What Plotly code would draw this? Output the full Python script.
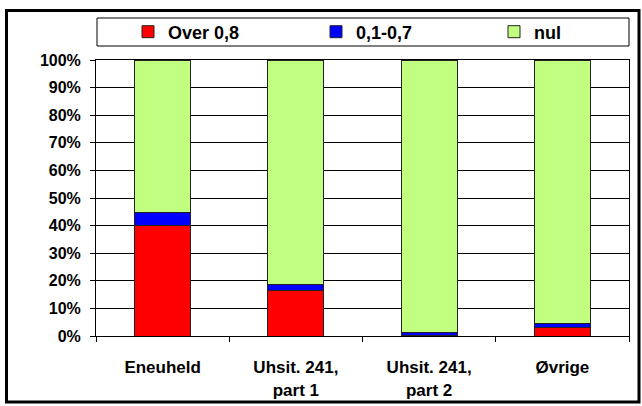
import plotly.graph_objects as go

categories = ["Eneuheld", "Uhsit. 241,<br>part 1", "Uhsit. 241,<br>part 2", "Øvrige"]
over_08 = [0.40, 0.165, 0.003, 0.032]
mid_01_07 = [0.048, 0.022, 0.008, 0.013]
nul = [0.552, 0.813, 0.989, 0.955]
series_names = ["Over 0,8", "0,1-0,7", "nul"]
series_colors = ["#FF0000", "#0000FF", "#C0FF80"]
y_ticks = [i / 10 for i in range(11)]

W, H = 642, 406
L, R, T, B = 96, 629, 60, 336
def px(x):
    return (x - L) / (R - L)
def py(y):
    return (B - y) / (B - T)

FONT = "Liberation Sans, Arial, sans-serif"
def f(size=15):
    return dict(family=FONT, size=size, color="black", weight="bold")

fig = go.Figure()
legend_ids = ["legend", "legend2", "legend3"]
for name, vals, col, lg in zip(series_names, [over_08, mid_01_07, nul], series_colors, legend_ids):
    fig.add_trace(go.Bar(
        x=categories, y=vals, name=name, legend=lg, showlegend=True,
        marker=dict(color=col, line=dict(color="#222222", width=1)),
    ))

leg_common = dict(orientation="h", xanchor="left", yanchor="middle",
                  bgcolor="rgba(0,0,0,0)", borderwidth=0,
                  font=f(18), itemwidth=30, visible=True)
legend_x = [128, 316, 494]

fig.update_layout(
    width=W, height=H,
    margin=dict(l=L, r=W - R, t=T, b=H - B, autoexpand=False),
    barmode="stack", bargap=0.58, showlegend=True,
    plot_bgcolor="white", paper_bgcolor="white",
    font=f(17),
    legend=dict(x=px(legend_x[0]), y=py(32), **leg_common),
    legend2=dict(x=px(legend_x[1]), y=py(32), **leg_common),
    legend3=dict(x=px(legend_x[2]), y=py(32), **leg_common),
    xaxis=dict(showline=True, linecolor="black", linewidth=1, mirror=True,
               ticks="outside", tickson="boundaries", ticklen=5, tickcolor="black",
               tickfont=f(17), ticklabelstandoff=16, showgrid=False, automargin=False),
    yaxis=dict(range=[0, 1], tickvals=y_ticks, tickformat=".0%",
               showline=True, linecolor="black", linewidth=1, mirror=True,
               ticks="outside", ticklen=5, tickcolor="black",
               showgrid=True, gridcolor="black", gridwidth=1,
               tickfont=f(16), ticklabelstandoff=6, zeroline=False, automargin=False),
    shapes=[
        dict(type="rect", xref="paper", yref="paper",
             x0=px(97), x1=px(629), y0=py(46), y1=py(18),
             line=dict(color="black", width=1), fillcolor="rgba(0,0,0,0)", layer="above"),
        dict(type="rect", xref="paper", yref="paper",
             x0=px(6.5), x1=px(639), y0=py(402), y1=py(10.5),
             line=dict(color="black", width=3), fillcolor="rgba(0,0,0,0)", layer="above"),
    ],
)

fig.write_html("out.html", post_script="document.body.style.margin='0';",
               config={"displayModeBar": False})
